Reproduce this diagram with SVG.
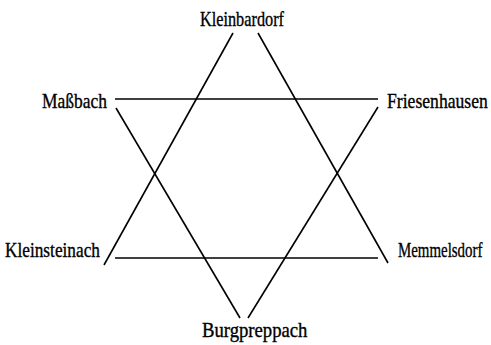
<svg xmlns="http://www.w3.org/2000/svg" width="491" height="345" viewBox="0 0 491 345">
<style>
.lbl{font-family:"Liberation Serif","DejaVu Serif",serif;font-size:21px;fill:#000;stroke:#000;stroke-width:0.35}
.ln{stroke:#000;stroke-width:1.6;fill:none}
</style>
<rect width="491" height="345" fill="#fff"/>
<g id="connectors">
<line class="ln" x1="233" y1="33" x2="104" y2="265"/>
<line class="ln" x1="258" y1="33" x2="388" y2="263"/>
<line class="ln" x1="115" y1="99" x2="378" y2="99"/>
<line class="ln" x1="115" y1="258" x2="378" y2="258"/>
<line class="ln" x1="116" y1="108" x2="240" y2="318"/>
<line class="ln" x1="248" y1="318" x2="378" y2="107"/>
</g>
<g id="kleinbardorf" transform="translate(200,26) scale(0.775,1)"><text class="lbl" x="0" y="0">Kleinbardorf</text></g>
<g id="massbach" transform="translate(42,108) scale(0.832,1)"><text class="lbl" x="0" y="0">Maßbach</text></g>
<g id="friesenhausen" transform="translate(387,108) scale(0.84,1)"><text class="lbl" x="0" y="0">Friesenhausen</text></g>
<g id="kleinsteinach" transform="translate(5,257) scale(0.823,1)"><text class="lbl" x="0" y="0">Kleinsteinach</text></g>
<g id="memmelsdorf" transform="translate(398,257) scale(0.71,1)"><text class="lbl" x="0" y="0">Memmelsdorf</text></g>
<g id="burgpreppach" transform="translate(202,337) scale(0.89,1)"><text class="lbl" x="0" y="0">Burgpreppach</text></g>
</svg>
